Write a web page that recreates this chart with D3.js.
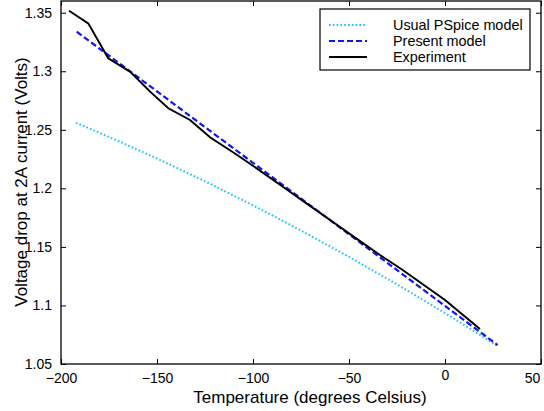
<!DOCTYPE html>
<html lang="en">
  <head>
    <meta charset="utf-8">
    <title>Voltage drop vs temperature</title>
  </head>
  <style type="text/css">
    body { margin: 0; background: white; }
    text {
      font-family: "Liberation Sans", Arial, sans-serif;
      fill: black;
    }
  </style>
  <body>
    <div id="svg-area"></div>

    <script type="text/javascript" src="https://cdn.jsdelivr.net/npm/d3@7"></script>
    <script>
      const svg_width = 544;
      const svg_height = 411;

      // values
      const pspice_temp = [-192.2, -170, -150, -125, -100, -75, -50, -25, 0, 27.6];
      const pspice_volt = [1.2561, 1.2403, 1.2255, 1.2060, 1.1855, 1.1640, 1.1415, 1.1180, 1.0935, 1.0652];

      const present_temp = [-191.8, -150, -100, -50, 0, 27.4];
      const present_volt = [1.3338, 1.2828, 1.2218, 1.1608, 1.0996, 1.0662];

      const exp_temp = [-195.8, -185.8, -175.4, -164.1, -153.6, -144.1, -132.8, -122.4, -110, -98.1, -85, -72, -60, -45, -33.9, -22.6, 0, 18.2];
      const exp_volt = [1.3517, 1.3409, 1.3111, 1.2997, 1.2826, 1.2684, 1.2584, 1.2436, 1.2304, 1.2171, 1.2020, 1.1870, 1.1732, 1.1558, 1.1431, 1.1309, 1.1047, 1.0799];

      const x_ticks = [-200, -150, -100, -50, 0, 50];
      const y_ticks = [1.05, 1.1, 1.15, 1.2, 1.25, 1.3, 1.35];

      const series_names = ['Usual PSpice model', 'Present model', 'Experiment'];

      const margin = {left: 61, right: 3, top: 1, bottom: 47};
      const plot_w = svg_width - margin.left - margin.right;
      const plot_h = svg_height - margin.top - margin.bottom;

      const x = d3.scaleLinear().domain([-200, 50]).range([margin.left, margin.left + plot_w]);
      const y = d3.scaleLinear().domain([1.05, 1.36]).range([margin.top + plot_h, margin.top]);

      const svg = d3.select('#svg-area')
        .append('svg')
        .attr('width', svg_width)
        .attr('height', svg_height);

      //ticks point inward on all four sides, matlab style
      const tick_len = 5;
      const x_axis = svg.append('g')
        .attr('transform', `translate(0,${margin.top + plot_h})`)
        .call(d3.axisBottom(x).tickValues(x_ticks).tickSizeInner(-tick_len).tickSizeOuter(0).tickPadding(9).tickFormat(d3.format('d')))
        .call(g => g.select('.domain').remove());
      x_axis.selectAll('text').attr('font-size', 14);
      //last label is pulled inside the page, "0" sits a bit higher as in the original
      x_axis.selectAll('.tick')
        .filter(d => d === 50)
        .select('text').attr('dx', -9);
      x_axis.selectAll('.tick')
        .filter(d => d === 0)
        .select('text').attr('y', 6);

      svg.append('g')
        .attr('transform', `translate(0,${margin.top})`)
        .call(d3.axisTop(x).tickValues(x_ticks).tickSizeInner(-tick_len).tickSizeOuter(0).tickFormat(''))
        .call(g => g.select('.domain').remove());
      svg.append('g')
        .attr('transform', `translate(${margin.left},0)`)
        .call(d3.axisLeft(y).tickValues(y_ticks).tickSizeInner(-tick_len).tickSizeOuter(0).tickPadding(9).tickFormat(d => d3.format('')(+d.toFixed(2))))
        .call(g => g.select('.domain').remove())
        .selectAll('text').attr('font-size', 14);
      svg.append('g')
        .attr('transform', `translate(${margin.left + plot_w},0)`)
        .call(d3.axisRight(y).tickValues(y_ticks).tickSizeInner(-tick_len).tickSizeOuter(0).tickFormat(''))
        .call(g => g.select('.domain').remove());
      svg.selectAll('.tick line').attr('stroke', 'black');
      svg.selectAll('.tick text').attr('fill', 'black').attr('font-family', '"Liberation Sans", Arial, sans-serif');

      //frame
      svg.append('rect')
        .attr('x', margin.left)
        .attr('y', margin.top)
        .attr('width', plot_w)
        .attr('height', plot_h)
        .attr('fill', 'none')
        .attr('stroke', 'black')
        .attr('stroke-width', 1.3);

      const line = d3.line().x(d => x(d[0])).y(d => y(d[1]));

      const styles = [
        {color: '#16c4fb', dash: '1.6,2.2', width: 2},
        {color: '#1212ff', dash: '6,3', width: 2.2},
        {color: 'black', dash: null, width: 2}
      ];
      const series = [
        pspice_temp.map((t, i) => [t, pspice_volt[i]]),
        present_temp.map((t, i) => [t, present_volt[i]]),
        exp_temp.map((t, i) => [t, exp_volt[i]])
      ];

      svg.selectAll('path.series')
        .data(series)
        .enter()
        .append('path')
        .attr('class', 'series')
        .attr('fill', 'none')
        .attr('stroke', (d, i) => styles[i].color)
        .attr('stroke-width', (d, i) => styles[i].width)
        .attr('stroke-dasharray', (d, i) => styles[i].dash)
        .attr('d', line);

      //legend
      const legend = svg.append('g').attr('transform', 'translate(320,9)');
      legend.append('rect')
        .attr('width', 210)
        .attr('height', 61)
        .attr('fill', 'white')
        .attr('stroke', 'black')
        .attr('stroke-width', 1.2);
      const rows = legend.selectAll('g.row')
        .data(series_names)
        .enter()
        .append('g')
        .attr('class', 'row')
        .attr('transform', (d, i) => `translate(0,${16 + i * 16})`);
      rows.append('line')
        .attr('x1', 9).attr('x2', 47)
        .attr('stroke', (d, i) => styles[i].color)
        .attr('stroke-width', (d, i) => styles[i].width)
        .attr('stroke-dasharray', (d, i) => styles[i].dash);
      rows.append('text')
        .attr('x', 73)
        .attr('y', 5)
        .attr('font-size', 14.4)
        .text(d => d);

      //axis labels
      svg.append('text')
        .attr('x', 310)
        .attr('y', 403)
        .attr('text-anchor', 'middle')
        .attr('font-size', 17)
        .text('Temperature (degrees Celsius)');
      svg.append('text')
        .attr('transform', 'translate(27,182) rotate(-90)')
        .attr('text-anchor', 'middle')
        .attr('font-size', 17)
        .text('Voltage drop at 2A current (Volts)');
    </script>
  </body>
</html>
